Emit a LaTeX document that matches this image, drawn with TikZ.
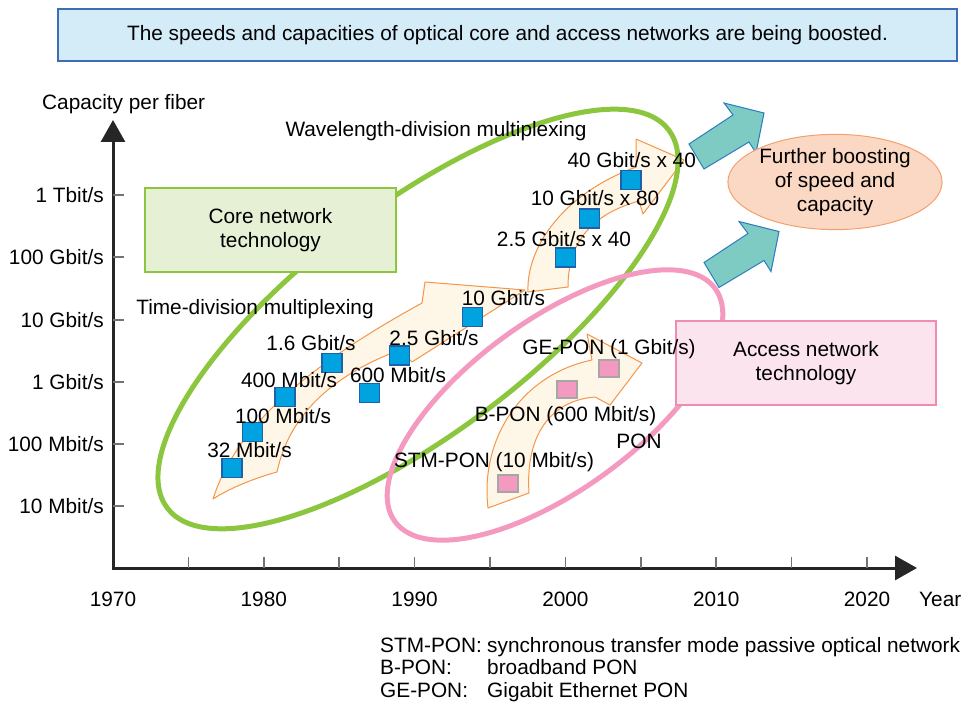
\documentclass[tikz,border=0pt]{standalone}
\usepackage{fontspec}
\setmainfont{Liberation Sans}
\usetikzlibrary{shapes.geometric,arrows.meta,positioning}

\definecolor{bannerfill}{HTML}{D4EBF8}
\definecolor{bannerline}{HTML}{3E6DB5}
\definecolor{corefill}{HTML}{E6F0D5}
\definecolor{coreline}{HTML}{8CC63F}
\definecolor{accfill}{HTML}{FCE4EE}
\definecolor{accline}{HTML}{EE8CB3}
\definecolor{boostfill}{HTML}{FBD8C3}
\definecolor{boostline}{HTML}{F3A070}
\definecolor{flowfill}{HTML}{FEF6E6}
\definecolor{flowline}{HTML}{F49548}
\definecolor{tealfill}{HTML}{7DCBC3}
\definecolor{tealline}{HTML}{2C7CC0}
\definecolor{sqblue}{HTML}{00A3E0}
\definecolor{sqline}{HTML}{1D61A9}
\definecolor{psqfill}{HTML}{F49AC1}
\definecolor{psqline}{HTML}{A6A6A6}
\definecolor{axisgray}{HTML}{262626}

\tikzset{
    axis/.style    = {line width=3pt, draw=axisgray,
                      {Triangle[length=22pt,width=24pt]}-{Triangle[length=22pt,width=24pt]}},
    axtick/.style  = {line width=1.5pt, draw=black!55},
    lbl/.style     = {inner sep=0pt, text height=14.8pt, text depth=0pt},
    banner/.style  = {rectangle, draw=bannerline, fill=bannerfill, line width=2pt,
                      minimum width=899pt, minimum height=52pt},
    techbox/.style = {rectangle, line width=2pt, align=center, inner sep=0pt},
    corebox/.style = {techbox, draw=coreline, fill=corefill, minimum width=251pt, minimum height=84pt},
    accbox/.style  = {techbox, draw=accline, fill=accfill, minimum width=260pt, minimum height=84pt},
    flow/.style    = {draw=flowline, fill=flowfill, line width=1pt, line join=round},
    boostarrow/.style = {draw=tealline, fill=tealfill, line width=1pt},
    loop/.style    = {ellipse, line width=5pt, inner sep=0pt}
}

\begin{document}
\begin{tikzpicture}[x=1pt, y=-1pt, font=\fontsize{20.8}{24}\selectfont,
        bsq/.style = {rectangle, draw=sqline, fill=sqblue, line width=1.5pt,
                      minimum width=20pt, minimum height=19pt, inner sep=0pt},
        psq/.style = {rectangle, draw=psqline, fill=psqfill, line width=2pt,
                      minimum width=20pt, minimum height=17pt, inner sep=0pt}
    ]
    \useasboundingbox (0,0) rectangle (964,703);

    % Title banner
    \node[banner] (title) at (507.5,35) {The speeds and capacities of optical core and access networks are being boosted.};

    % Axes
    \coordinate (ytip) at (113,120);
    \coordinate (origin) at (113,568);
    \coordinate (xtip) at (917,568);
    \draw[axis] (ytip) -- (origin) -- (xtip);
    \node[lbl, anchor=west] (ytitle) at (42,102) {Capacity per fiber};

    \foreach \yy/\lab [count=\i] in {195/{1 Tbit/s}, 257/{100 Gbit/s}, 320/{10 Gbit/s},
                                     382/{1 Gbit/s}, 444/{100 Mbit/s}, 506/{10 Mbit/s}} {
        \draw[axtick] (113,\yy) -- ++(11,0);
        \node[lbl, anchor=east] (cap\i) at (104,\yy) {\lab};
    }
    \foreach \yr in {1975,1980,...,2020}
        \draw[axtick] ({113+(\yr-1970)*15.08},568) -- ++(0,-11);
    \foreach \yr in {1970,1980,...,2020}
        \node[lbl] (yr\yr) at ({113+(\yr-1970)*15.08},599) {\yr};
    \node[lbl, anchor=west] (yearlbl) at (919,599) {Year};

    % Growth arrows
    \draw[flow] (213,499) .. controls (235,430) and (300,370) .. (422,303) -- (425,282) -- (525,290)
        -- (412,362) -- (400,350) .. controls (340,372) and (290,410) .. (277,472)
        .. controls (255,478) and (230,488) .. (213,499) -- cycle;
    \draw[flow] (528,292) .. controls (526,250) and (560,195) .. (636,167) -- (636,139) -- (684,160)
        -- (643,214) -- (639,201) .. controls (600,212) and (568,235) .. (568,287) -- cycle;
    \draw[flow] (488,508) .. controls (480,440) and (520,375) .. (592,360) -- (587,334) -- (642,363)
        -- (610,405) -- (595,397) .. controls (555,400) and (525,430) .. (529,493) -- cycle;

    % Technology loops
    \node[loop, draw=coreline, minimum width=628pt, minimum height=228pt, rotate=37] (coreloop) at (418,319) {};
    \node[loop, draw=psqfill, minimum width=396pt, minimum height=170pt, rotate=36] (accloop) at (555,405) {};

    % Further boosting
    \foreach \s in {0,1}
        \draw[boostarrow, shift={({15*\s},{118.5*\s})}] (689,144) -- (733,115) -- (724,103) -- (764,113)
            -- (756,153) -- (749,142) -- (704,169) -- cycle;
    \node[ellipse, draw=boostline, fill=boostfill, line width=1pt, minimum width=200pt,
          minimum height=83pt, inner sep=0pt, align=center] (boost) at (835,182)
          {Further boosting\\of speed and\\capacity};

    % Technology boxes
    \node[corebox] (core) at (270.5,230) {Core network\\technology};
    \node[accbox] (access) at (806,363) {Access network\\technology};

    % Core systems
    \node[bsq] (s32m)  at (232,468) {};
    \node[bsq] (s100m) at (252.7,432) {};
    \node[bsq] (s400m) at (285,397) {};
    \node[bsq] (s1g6)  at (332,363) {};
    \node[bsq] (s600m) at (369.5,393) {};
    \node[bsq] (s2g5)  at (399.7,355.5) {};
    \node[bsq] (s10g)  at (472.5,317) {};
    \node[bsq] (sw2g5) at (565.5,257.5) {};
    \node[bsq] (sw10g) at (589.5,218.5) {};
    \node[bsq] (sw40g) at (631,180) {};

    % Access systems
    \node[psq] (sstm) at (508,483) {};
    \node[psq] (sbp)  at (567,389) {};
    \node[psq] (sge)  at (609,368) {};

    % Labels
    \node[lbl] (l32m)  at (249.5,450) {32 Mbit/s};
    \node[lbl] (l100m) at (283,416) {100 Mbit/s};
    \node[lbl] (l400m) at (289,380) {400 Mbit/s};
    \node[lbl] (l1g6)  at (311,343) {1.6 Gbit/s};
    \node[lbl] (l600m) at (398,375) {600 Mbit/s};
    \node[lbl] (l2g5)  at (434,338) {2.5 Gbit/s};
    \node[lbl] (l10g)  at (503.4,298) {10 Gbit/s};
    \node[lbl] (lw2g5) at (564,239) {2.5 Gbit/s x 40};
    \node[lbl] (lw10g) at (595,198) {10 Gbit/s x 80};
    \node[lbl] (lw40g) at (631.7,160) {40 Gbit/s x 40};
    \node[lbl] (ltdm)  at (255,307) {Time-division multiplexing};
    \node[lbl] (lwdm)  at (436,129) {Wavelength-division multiplexing};
    \node[lbl] (lge)   at (609,347) {GE-PON (1 Gbit/s)};
    \node[lbl] (lbp)   at (565.5,414) {B-PON (600 Mbit/s)};
    \node[lbl] (lpon)  at (639,441) {PON};
    \node[lbl] (lstm)  at (494,460) {STM-PON (10 Mbit/s)};

    % Abbreviations
    \foreach \yy/\abbr/\desc [count=\i] in {645/{STM-PON:}/{synchronous transfer mode passive optical network},
                                           667/{B-PON:}/{broadband PON},
                                           690/{GE-PON:}/{Gigabit Ethernet PON}} {
        \node[lbl, anchor=west] (abbr\i) at (380,\yy) {\abbr};
        \node[lbl, anchor=west] (desc\i) at (487,\yy) {\desc};
    }
\end{tikzpicture}
\end{document}
